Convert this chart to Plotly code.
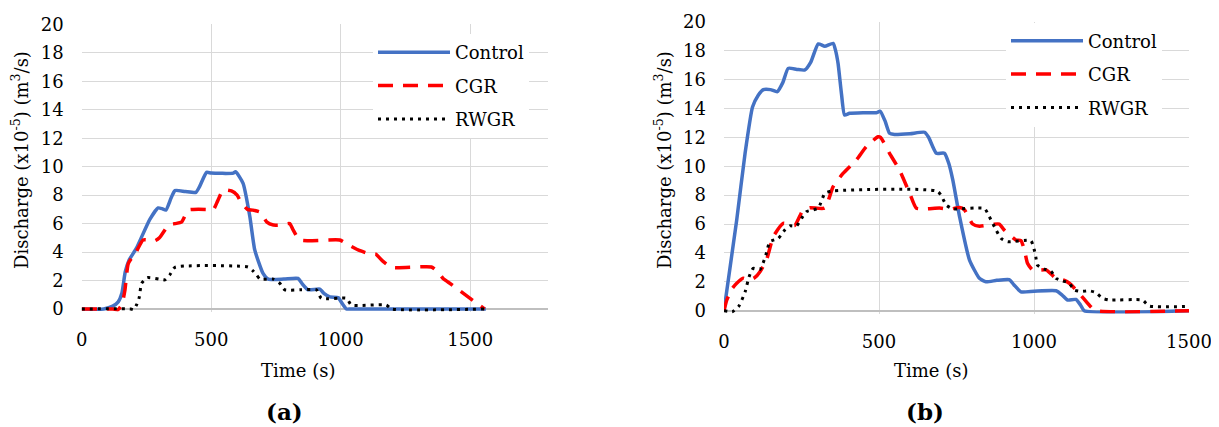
import plotly.graph_objects as go

# ---------------- data: panel (a) ----------------
ctrl_a_t = [0, 85, 120, 141, 155, 168, 182, 212, 263, 295, 310, 325, 345, 360, 400, 441, 455, 482, 500,
            585, 594, 623, 649, 668, 700, 720, 780, 835, 850, 874, 919, 935, 958, 990, 1005, 1022, 1040, 1560]
ctrl_a_q = [0, 0, 0.2, 0.5, 1.1, 2.6, 3.4, 4.3, 6.3, 7.1, 7.05, 6.95, 7.8, 8.32, 8.25, 8.2, 8.6, 9.6, 9.55,
            9.55, 9.65, 8.83, 6.5, 4.15, 2.5, 2.1, 2.1, 2.15, 1.8, 1.35, 1.4, 1.1, 0.85, 0.8, 0.4, 0.0, 0, 0]

cgr_a_t = [0, 120, 140, 155, 167, 180, 210, 237, 283, 300, 321, 334, 360, 385, 411, 430, 480, 507, 525, 546,
           578, 600, 615, 640, 660, 690, 715, 740, 765, 803, 815, 842, 996, 1030, 1067, 1118, 1135, 1160, 1196,
           1350, 1375, 1395, 1414, 1555]
cgr_a_q = [0, 0, -0.05, 0.3, 1.34, 3.2, 4.0, 4.85, 4.8, 5.0, 5.55, 5.9, 6.0, 6.1, 6.95, 7.0, 7.0, 6.95, 7.6, 8.36,
           8.3, 8.0, 7.5, 7.0, 6.95, 6.8, 6.1, 5.9, 5.9, 6.0, 5.6, 4.85, 4.85, 4.5, 4.15, 3.84, 3.85, 3.4, 2.93,
           2.95, 2.6, 2.15, 1.9, 0]

rwgr_a_t = [0, 190, 200, 212, 222, 231, 253, 300, 321, 340, 360, 642, 660, 675, 688, 739, 765, 784, 849, 906,
            925, 1022, 1041, 1176, 1196, 1555]
rwgr_a_q = [0, 0, -0.05, 0.3, 0.8, 1.8, 2.2, 2.1, 2.05, 2.4, 2.93, 2.95, 2.7, 2.4, 2.1, 2.1, 1.8, 1.35, 1.35, 1.35,
            0.75, 0.75, 0.28, 0.28, 0, 0]

# ---------------- data: panel (b) ----------------
ctrl_b_t = [0, 41, 68, 92, 110, 127, 150, 172, 190, 207, 235, 261, 280, 304, 325, 352, 360, 368, 379, 389, 405,
            450, 491, 504, 520, 534, 550, 600, 647, 660, 685, 711, 725, 738, 760, 792, 824, 845, 880, 920, 935,
            958, 1000, 1071, 1090, 1108, 1135, 1150, 1162, 1500]
ctrl_b_q = [0, 6.28, 10.9, 14.1, 14.9, 15.3, 15.3, 15.16, 15.8, 16.77, 16.7, 16.66, 17.2, 18.46, 18.3, 18.5, 18.0,
            17.1, 15.0, 13.54, 13.66, 13.7, 13.7, 13.8, 13.1, 12.28, 12.2, 12.25, 12.35, 12.0, 10.89, 10.9, 10.2,
            9.05, 6.5, 3.5, 2.24, 2.0, 2.1, 2.15, 1.8, 1.31, 1.35, 1.38, 1.1, 0.74, 0.78, 0.4, 0, 0]

cgr_b_t = [0, 9, 25, 41, 62, 80, 100, 116, 137, 159, 191, 228, 255, 277, 325, 352, 384, 427, 459, 497, 505, 534,
           566, 599, 620, 652, 695, 727, 760, 775, 802, 824, 888, 904, 942, 958, 969, 979, 995, 1006, 1039, 1071,
           1098, 1114, 1146, 1178, 1199, 1500]
cgr_b_q = [0, 0.74, 1.5, 1.9, 2.24, 2.1, 2.3, 2.7, 3.5, 5.12, 6.05, 5.9, 6.97, 7.13, 7.1, 8.58, 9.5, 10.43, 11.35,
           12.04, 12.0, 10.89, 9.74, 8.12, 7.1, 7.05, 7.1, 7.02, 7.15, 7.0, 6.0, 5.85, 6.0, 5.58, 4.89, 4.85, 4.2,
           3.28, 2.82, 2.8, 2.82, 2.24, 2.1, 1.9, 1.2, 0.39, 0, 0]

rwgr_b_t = [0, 27, 48, 68, 81, 94, 116, 135, 148, 175, 196, 212, 234, 250, 266, 304, 325, 347, 690, 717, 738, 840,
            856, 878, 894, 915, 990, 1001, 1006, 1011, 1033, 1055, 1071, 1092, 1114, 1130, 1151, 1178, 1199, 1221,
            1243, 1350, 1371, 1500]
rwgr_b_q = [0, -0.07, 0.32, 1.3, 2.35, 2.93, 2.85, 3.85, 4.78, 5.0, 5.58, 5.87, 5.87, 6.39, 6.85, 7.1, 8.12, 8.28,
            8.25, 7.31, 7.05, 7.08, 6.5, 5.58, 5.0, 4.78, 4.85, 4.2, 3.7, 3.16, 2.88, 2.72, 2.24, 2.07, 1.9, 1.43,
            1.33, 1.38, 1.26, 0.86, 0.74, 0.74, 0.33, 0.3]

series_names = ["Control", "CGR", "RWGR"]
x_ticks = [0, 500, 1000, 1500]
y_ticks = list(range(0, 21, 2))
panel_labels = ["(a)", "(b)"]

# ---------------- layout helpers (page has an 8px body margin) ----------------
OFF = 8
W, H = 1219 - OFF, 427 - OFF


def px(xp):
    return (xp - OFF) / W


def py(yp):
    return (H - (yp - OFF)) / H


FONT = "DejaVu Serif"
BLUE, RED, BLACK = "#4472C4", "#FF0000", "#000000"
GRID = "#d9d9d9"
styles = [
    dict(color=BLUE, width=3.5, dash="solid"),
    dict(color=RED, width=3.5, dash="15px,10px"),
    dict(color=BLACK, width=3, dash="3px,5px"),
]

fig = go.Figure()

panels = [
    ("x", "y", "legend", [(ctrl_a_t, ctrl_a_q), (cgr_a_t, cgr_a_q), (rwgr_a_t, rwgr_a_q)]),
    ("x2", "y2", "legend2", [(ctrl_b_t, ctrl_b_q), (cgr_b_t, cgr_b_q), (rwgr_b_t, rwgr_b_q)]),
]
for xa, ya, lg, data in panels:
    for i, ((t, q), name, st) in enumerate(zip(data, series_names, styles)):
        fig.add_trace(go.Scatter(
            x=t, y=q, mode="lines", name=name,
            line=dict(color=st["color"], width=st["width"], dash=st["dash"],
                      shape="spline", smoothing=0.5),
            xaxis=xa, yaxis=ya, legend=lg, legendgroup=f"{lg}_{i}",
        ))

tickfont = dict(family=FONT, size=18, color="black")
xcommon = dict(tickmode="array", tickvals=x_ticks, showgrid=True, gridcolor=GRID, gridwidth=1.3,
               zeroline=False, showline=False, ticks="", tickfont=tickfont, ticklabelstandoff=15,
               automargin=False)
ycommon = dict(tickmode="array", tickvals=y_ticks, showgrid=True, gridcolor=GRID, gridwidth=1.3,
               zeroline=True, zerolinecolor="#bfbfbf", zerolinewidth=1.6, showline=False, ticks="",
               tickfont=tickfont, ticklabelstandoff=17, range=[-0.2, 20], automargin=False)

legcommon = dict(xanchor="left", yanchor="top", bgcolor="white", borderwidth=0,
                 font=dict(family=FONT, size=18, color="black"), itemwidth=72,
                 tracegroupgap=7, traceorder="grouped")

fig.update_layout(
    width=W, height=H,
    margin=dict(l=0, r=0, t=0, b=0, autoexpand=False),
    paper_bgcolor="white", plot_bgcolor="white",
    xaxis=dict(domain=[px(81.7), px(548)], range=[0, 1800], anchor="y", **xcommon),
    yaxis=dict(domain=[py(311.85), py(24.4)], anchor="x", **ycommon),
    xaxis2=dict(domain=[px(724), px(1189)], range=[0, 1500], anchor="y2", **xcommon),
    yaxis2=dict(domain=[py(313.6), py(21.7)], anchor="x2", **ycommon),
    legend=dict(x=px(373), y=py(34), **legcommon),
    legend2=dict(x=px(1006), y=py(22.5), **legcommon),
)

ytitle = "Discharge (x10<sup>-5</sup>) (m<sup>3</sup>/s)"
ann = []
for xc in [20, 663]:
    ann.append(dict(text=ytitle, x=px(xc), y=py(160), xref="paper", yref="paper",
                    showarrow=False, textangle=-90, xanchor="center", yanchor="middle",
                    font=dict(family=FONT, size=18, color="black")))
for xc in [298, 932]:
    ann.append(dict(text="Time (s)", x=px(xc), y=py(370), xref="paper", yref="paper",
                    showarrow=False, xanchor="center", yanchor="middle",
                    font=dict(family=FONT, size=18, color="black")))
for xc, lab in zip([284, 925], panel_labels):
    ann.append(dict(text=f"<b>{lab}</b>", x=px(xc), y=py(411), xref="paper", yref="paper",
                    showarrow=False, xanchor="center", yanchor="middle",
                    font=dict(family=FONT, size=23, color="black")))
fig.update_layout(annotations=ann)

fig.write_html("out.html")
